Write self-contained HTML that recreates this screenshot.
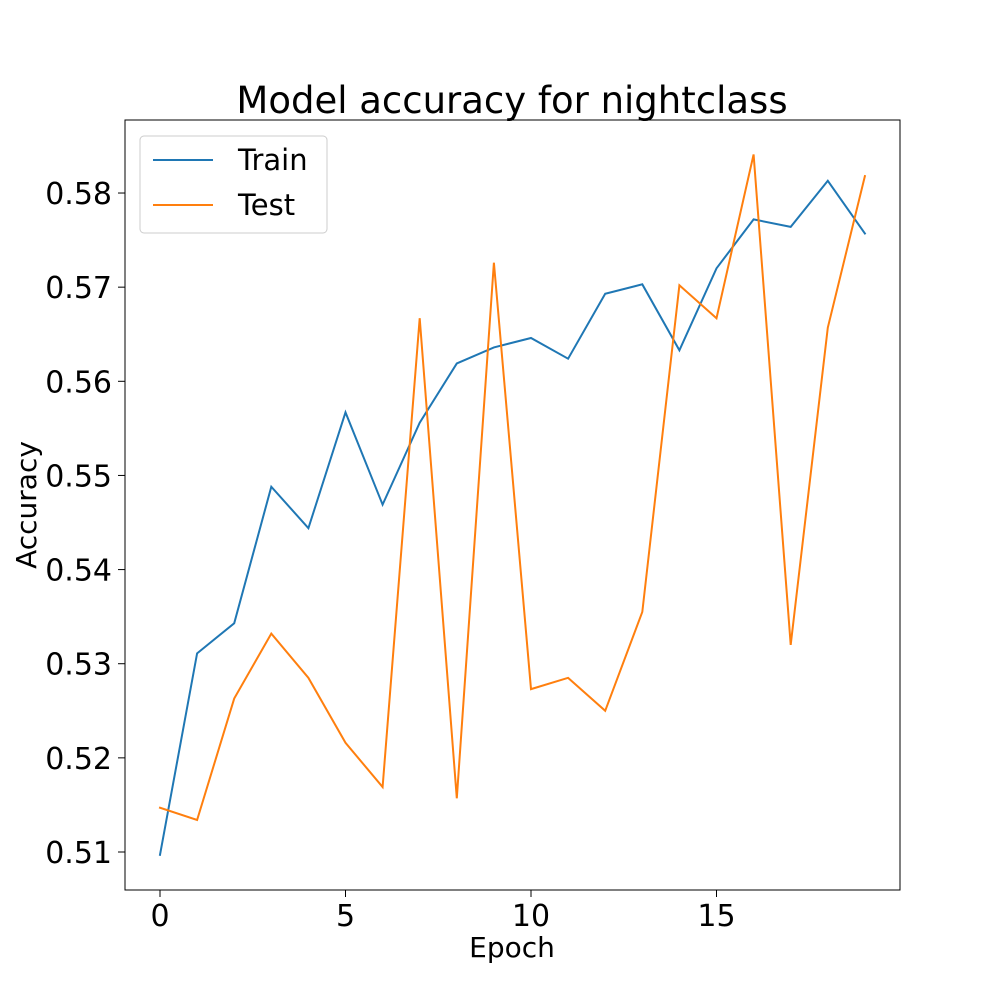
<!DOCTYPE html>
<html><head><meta charset="utf-8"><style>
body{margin:0;background:#fff;}
svg{display:block;font-family:"DejaVu Sans","Liberation Sans",sans-serif;}
</style></head><body>
<svg id="chart" width="1000" height="1000" viewBox="0 0 1000 1000">
<rect x="0" y="0" width="1000" height="1000" fill="#fff"/>
<text x="512" y="113" font-size="37" text-anchor="middle">Model accuracy for nightclass</text>
<g id="ticks"></g>
<g id="series"></g>
<rect x="125" y="120" width="775" height="770" fill="none" stroke="#000" stroke-width="1"/>
<text x="512" y="957" font-size="28" text-anchor="middle">Epoch</text>
<text x="36" y="505" font-size="28" text-anchor="middle" transform="rotate(-90 36 505)">Accuracy</text>
<g>
<rect x="140" y="136" width="187" height="97" rx="4" fill="#fff" stroke="#ccc" stroke-width="1"/>
<line x1="153" y1="160" x2="213" y2="160" stroke="#1f77b4" stroke-width="2"/>
<text x="238" y="170" font-size="29">Train</text>
<line x1="153" y1="205" x2="213" y2="205" stroke="#ff7f0e" stroke-width="2"/>
<text x="238" y="215" font-size="29">Test</text>
</g>
</svg>
<script>
const epochs = [0,1,2,3,4,5,6,7,8,9,10,11,12,13,14,15,16,17,18,19];
const trainAcc = [0.5097,0.5311,0.5343,0.5488,0.5444,0.5567,0.5469,0.5556,0.5619,0.5636,0.5646,0.5624,0.5693,0.5703,0.5633,0.5720,0.5772,0.5764,0.5813,0.5757];
const testAcc = [0.5147,0.5134,0.5263,0.5332,0.5285,0.5216,0.5169,0.5667,0.5157,0.5726,0.5273,0.5285,0.5250,0.5355,0.5702,0.5667,0.5841,0.5320,0.5657,0.5818];
const xTicks = [0,5,10,15];
const yTicks = [0.51,0.52,0.53,0.54,0.55,0.56,0.57,0.58];

const NS = "http://www.w3.org/2000/svg";
function xs(v){return 160 + v*37.1;}
function ys(v){return 852 - (v-0.51)*9414;}
const tg = document.getElementById('ticks');
xTicks.forEach(t=>{
  const l=document.createElementNS(NS,'line');
  l.setAttribute('x1',xs(t));l.setAttribute('x2',xs(t));l.setAttribute('y1',890);l.setAttribute('y2',897);l.setAttribute('stroke','#000');
  
  
  tg.appendChild(l);
  const tx=document.createElementNS(NS,'text');
  tx.setAttribute('x',xs(t));tx.setAttribute('y',926);tx.setAttribute('font-size','30');tx.setAttribute('text-anchor','middle');
  tx.textContent=t;
  
  
  tg.appendChild(tx);
});
yTicks.forEach(t=>{
  const l=document.createElementNS(NS,'line');
  l.setAttribute('x1',118);l.setAttribute('x2',125);l.setAttribute('y1',ys(t));l.setAttribute('y2',ys(t));l.setAttribute('stroke','#000');
  
  
  tg.appendChild(l);
  const tx=document.createElementNS(NS,'text');
  tx.setAttribute('x',112);tx.setAttribute('y',ys(t)+11);tx.setAttribute('font-size','30');tx.setAttribute('text-anchor','end');
  tx.textContent=t.toFixed(2);
  
  
  tg.appendChild(tx);
});
const sg=document.getElementById('series');
function drawLine(vals,color,name){
  const p=document.createElementNS(NS,'polyline');
  p.setAttribute('points',vals.map((v,i)=>xs(epochs[i])+','+ys(v)).join(' '));
  p.setAttribute('fill','none');p.setAttribute('stroke',color);p.setAttribute('stroke-width','2');p.setAttribute('stroke-linecap','square');
  
  
  sg.appendChild(p);
}
drawLine(trainAcc,'#1f77b4','train-line');
drawLine(testAcc,'#ff7f0e','test-line');
</script>
</body></html>
